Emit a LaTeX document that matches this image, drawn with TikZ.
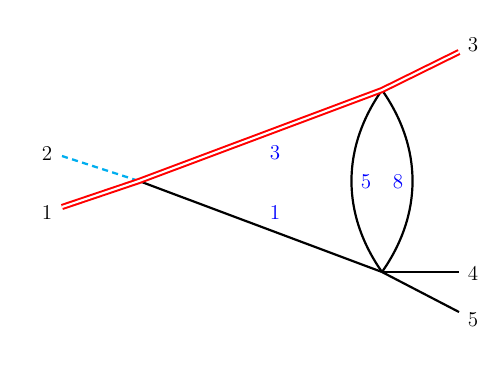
\documentclass[tikz,border=0pt]{standalone}
\usetikzlibrary{positioning}
\definecolor{scalarblue}{RGB}{0,174,239}

\begin{document}
\begin{tikzpicture}[
    x=0.02cm, y=-0.02cm,
    fermion/.style={line width=1.25pt, black},
    heavy/.style={draw=red, double=white, double distance=1.2pt, line width=1.15pt},
    scalar/.style={line width=1.3pt, scalarblue, dash pattern=on 3.5pt off 2.5pt},
    ext/.style={font=\fontsize{12}{14}\selectfont},
    mom/.style={font=\fontsize{12}{14}\selectfont, text=blue}
]
  \useasboundingbox (0,0) rectangle (490,380);

  % vertices
  \coordinate (v1) at (139,181);
  \coordinate (v2) at (382,90);
  \coordinate (v3) at (382,272);

  % external legs
  \coordinate (e1) at (62,207);
  \coordinate (e2) at (62,156);
  \coordinate (e3) at (459,52);
  \coordinate (e4) at (459,272);
  \coordinate (e5) at (459,312);

  \draw[scalar] (e2) -- (v1);
  \draw[fermion] (v1) -- (v3);
  \draw[fermion] (v3) -- (e4);
  \draw[fermion] (v3) -- (e5);
  \draw[fermion] (v2) to[bend right=35] (v3);
  \draw[fermion] (v2) to[bend left=35] (v3);
  \draw[heavy] (e1) -- (v1) -- (v2) -- (e3);

  % labels
  \node[ext] (l1) at (47,212) {1};
  \node[ext] (l2) at (47,153) {2};
  \node[ext] (l3) at (473,45) {3};
  \node[ext] (l4) at (473,273) {4};
  \node[ext] (l5) at (473,320) {5};

  \node[mom] (m3) at (275,153) {3};
  \node[mom] (m1) at (275,212) {1};
  \node[mom] (m5) at (366,182) {5};
  \node[mom] (m8) at (398,182) {8};
\end{tikzpicture}
\end{document}
